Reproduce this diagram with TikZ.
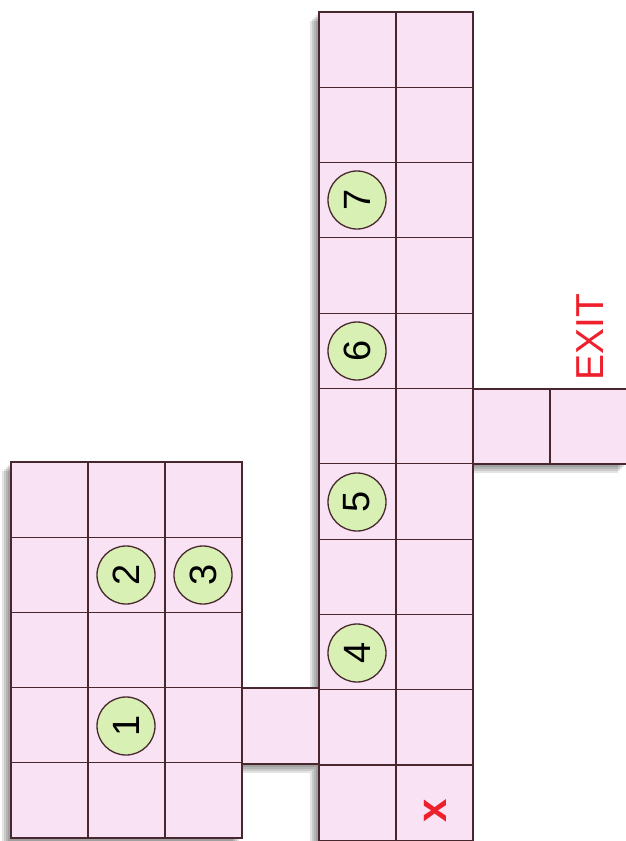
\documentclass[tikz,border=0pt]{standalone}
\usepackage{fontspec}
\setsansfont{Liberation Sans}
\definecolor{cellpink}{RGB}{248,226,243}
\definecolor{gridline}{RGB}{72,40,46}
\definecolor{tokengreen}{RGB}{216,240,180}
\definecolor{exitred}{RGB}{238,32,44}

\begin{document}
\begin{tikzpicture}[x=1pt, y=-1pt,
  cell/.style={draw=gridline, fill=cellpink, line width=1.1pt},
  token/.style={circle, draw=gridline, fill=tokengreen, line width=1.3pt,
    minimum size=58pt, inner sep=0pt, rotate=90,
    font=\sffamily\fontsize{38}{38}\selectfont},
  label/.style={text=exitred, inner sep=0pt, rotate=90}]
  \useasboundingbox (0,0) rectangle (625,841);
  % shadows
  \foreach \s in {9,7,5,3} {
    \fill[black, opacity=0.11] (11-\s,462+\s) rectangle (242-\s,838+\s);
    \fill[black, opacity=0.11] (242-\s,688+\s) rectangle (319-\s,764+\s);
    \fill[black, opacity=0.11] (319-\s,12+\s) rectangle (473-\s,840+\s);
    \fill[black, opacity=0.11] (473-\s,389+\s) rectangle (627-\s,464+\s);
  }
  % left block
  \foreach \i in {0,1,2}
    \foreach \j in {0,...,4}
      \draw[cell] (11+77*\i,462+75.2*\j) rectangle ++(77,75.2);
  % bridge
  \draw[cell] (242,688) rectangle (319,764);
  % right block
  \foreach \i in {0,1}
    \foreach \j in {0,...,10}
      \draw[cell] (319+77*\i,12+75.3*\j) rectangle ++(77,75.3);
  % exit arm
  \draw[cell] (473,389) rectangle (550,464);
  \draw[cell] (550,389) rectangle (627,464);

  \node[token] (t1) at (126,726) {1};
  \node[token] (t2) at (126,575) {2};
  \node[token] (t3) at (203,575) {3};
  \node[token] (t4) at (357,653) {4};
  \node[token] (t5) at (357,502) {5};
  \node[token] (t6) at (357,351) {6};
  \node[token] (t7) at (357,200) {7};

  \node[label, font=\sffamily\fontsize{39}{39}\selectfont] (exit) at (590,337) {EXIT};
  \node[label, font=\sffamily\bfseries\fontsize{42}{42}\selectfont] (start) at (435,811) {x};
\end{tikzpicture}
\end{document}
